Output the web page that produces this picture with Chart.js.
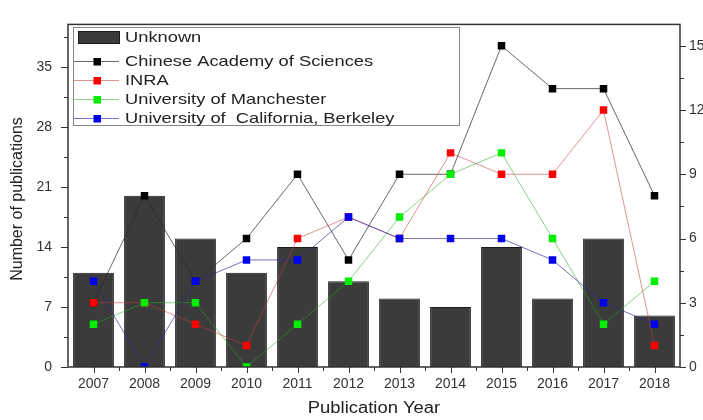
<!DOCTYPE html>
<html>
<head>
<meta charset="utf-8">
<style>
  html, body { margin: 0; padding: 0; background: #fff; }
</style>
<script src="https://cdn.jsdelivr.net/npm/chart.js@4/dist/chart.umd.min.js"></script>
</head>
<body>
<canvas id="chart" width="703" height="420"></canvas>
<script>
const years = ["2007", "2008", "2009", "2010", "2011", "2012", "2013", "2014", "2015", "2016", "2017", "2018"];
const unknown = [11, 20, 15, 11, 14, 10, 8, 7, 14, 8, 15, 6];
const cas = [3, 8, 4, 6, 9, 5, 9, 9, 15, 13, 13, 8];
const inra = [3, 3, 2, 1, 6, 7, 6, 10, 9, 9, 12, 1];
const manchester = [2, 3, 3, 0, 2, 4, 7, 9, 10, 6, 2, 4];
const berkeley = [4, 0, 4, 5, 5, 7, 6, 6, 6, 5, 3, 2];
const leftTicks = [0, 7, 14, 21, 28, 35];
const rightTicks = [0, 3, 6, 9, 12, 15];

const FONT = "'Liberation Sans', Arial, sans-serif";
const BAR_FILL = "#3b3b3b";

function lineSet(label, data, marker, line, order) {
  return {
    type: "line",
    label: label,
    data: data,
    yAxisID: "y2",
    borderColor: line,
    borderWidth: 1,
    pointStyle: "rect",
    pointRadius: 5.3,
    pointBackgroundColor: marker,
    pointBorderColor: marker,
    pointBorderWidth: 0,
    tension: 0,
    fill: false,
    order: order,
  };
}

// ticks, frame, axis titles and legend
const decorations = {
  id: "decorations",
  afterDraw(chart) {
    const ctx = chart.ctx;
    const area = chart.chartArea;
    const xs = chart.scales.x;
    const ys = chart.scales.y;
    const ys2 = chart.scales.y2;

    ctx.save();
    ctx.strokeStyle = "#333";
    ctx.lineWidth = 1;
    ctx.beginPath();
    leftTicks.forEach((v) => {
      const y = Math.round(ys.getPixelForValue(v)) + 0.5;
      ctx.moveTo(area.left - 7, y);
      ctx.lineTo(area.left, y);
    });
    for (let v = 3.5; v < 40; v += 7) {
      const y = Math.round(ys.getPixelForValue(v)) + 0.5;
      ctx.moveTo(area.left - 4, y);
      ctx.lineTo(area.left, y);
    }
    rightTicks.forEach((v) => {
      const y = Math.round(ys2.getPixelForValue(v)) + 0.5;
      ctx.moveTo(area.right, y);
      ctx.lineTo(area.right + 6, y);
    });
    for (let v = 1.5; v < 16; v += 3) {
      const y = Math.round(ys2.getPixelForValue(v)) + 0.5;
      ctx.moveTo(area.right, y);
      ctx.lineTo(area.right + 4, y);
    }
    years.forEach((yr, i) => {
      const x = Math.round(xs.getPixelForValue(i)) + 0.5;
      ctx.moveTo(x, area.bottom);
      ctx.lineTo(x, area.bottom + 6);
      if (i < years.length - 1) {
        const xb = Math.round((xs.getPixelForValue(i) + xs.getPixelForValue(i + 1)) / 2) + 0.5;
        ctx.moveTo(xb, area.bottom);
        ctx.lineTo(xb, area.bottom + 4);
      }
    });
    ctx.stroke();

    // frame
    ctx.strokeStyle = "#333";
    ctx.lineWidth = 1.5;
    ctx.strokeRect(area.left, area.top, area.right - area.left, area.bottom - area.top);

    // axis titles
    ctx.fillStyle = "#222";
    ctx.textAlign = "center";
    ctx.textBaseline = "middle";
    ctx.font = "16px " + FONT;
    ctx.save();
    ctx.translate((area.left + area.right) / 2, 409);
    ctx.scale(1.15, 1);
    ctx.fillText("Publication Year", 0, 0);
    ctx.restore();
    ctx.save();
    ctx.translate(18, 199);
    ctx.rotate(-Math.PI / 2);
    ctx.fillText("Number of publications", 0, 0);
    ctx.restore();

    // legend
    const lx = 73.5, ly = 27.5, lw = 386, lh = 98;
    ctx.fillStyle = "#fff";
    ctx.fillRect(lx, ly, lw, lh);
    ctx.strokeStyle = "#888";
    ctx.lineWidth = 1;
    ctx.strokeRect(lx, ly, lw, lh);

    ctx.font = "15px " + FONT;
    ctx.textAlign = "left";
    chart.data.datasets.forEach((ds, i) => {
      const y = i === 0 ? 37 : 61 + (i - 1) * 19;
      if (i === 0) {
        ctx.fillStyle = BAR_FILL;
        ctx.fillRect(78, 31, 42, 13);
        ctx.strokeStyle = "#1a1a1a";
        ctx.strokeRect(78.5, 31.5, 41, 12);
      } else {
        ctx.strokeStyle = ds.borderColor;
        ctx.beginPath();
        ctx.moveTo(74, y + 0.5);
        ctx.lineTo(119, y + 0.5);
        ctx.stroke();
        ctx.fillStyle = ds.pointBackgroundColor;
        ctx.fillRect(93.5, y - 3, 7.5, 7.5);
      }
      ctx.fillStyle = "#222";
      ctx.save();
      ctx.translate(125, y + 1);
      ctx.scale(1.22, 1);
      ctx.fillText(ds.label, 0, 0);
      ctx.restore();
    });
    ctx.restore();
  },
};

new Chart(document.getElementById("chart").getContext("2d"), {
  type: "bar",
  data: {
    labels: years,
    datasets: [
      {
        type: "bar",
        label: "Unknown",
        data: unknown,
        yAxisID: "y",
        backgroundColor: BAR_FILL,
        borderColor: "#1a1a1a",
        borderWidth: 1,
        barPercentage: 0.8,
        categoryPercentage: 1,
        order: 5,
      },
      lineSet("Chinese Academy of Sciences", cas, "#000000", "rgba(40,40,40,0.7)", 4),
      lineSet("INRA", inra, "#ff0000", "rgba(200,60,60,0.55)", 3),
      lineSet("University of Manchester", manchester, "#00ee00", "rgba(40,170,40,0.55)", 2),
      lineSet("University of  California, Berkeley", berkeley, "#0000ee", "rgba(40,40,150,0.65)", 1),
    ],
  },
  options: {
    responsive: false,
    animation: false,
    devicePixelRatio: 1,
    layout: { padding: { top: 10, left: 0, right: 0, bottom: 0 } },
    plugins: {
      legend: { display: false },
      tooltip: { enabled: false },
    },
    scales: {
      x: {
        offset: true,
        grid: { display: false, drawTicks: false },
        border: { display: false },
        ticks: { padding: 9, color: "#333", font: { family: FONT, size: 14 } },
        afterFit: (s) => { s.height = 53; },
      },
      y: {
        position: "left",
        min: 0,
        max: 40,
        grid: { display: false, drawTicks: false },
        border: { display: false },
        ticks: { padding: 16, color: "#333", font: { family: FONT, size: 14 } },
        afterBuildTicks: (s) => { s.ticks = leftTicks.map((v) => ({ value: v })); },
        afterFit: (s) => { s.width = 68; },
      },
      y2: {
        position: "right",
        min: 0,
        max: 16,
        grid: { display: false, drawTicks: false },
        border: { display: false },
        ticks: { padding: 9, color: "#333", font: { family: FONT, size: 14 } },
        afterBuildTicks: (s) => { s.ticks = rightTicks.map((v) => ({ value: v })); },
        afterFit: (s) => { s.width = 23; },
      },
    },
  },
  plugins: [decorations],
});
</script>
</body>
</html>
